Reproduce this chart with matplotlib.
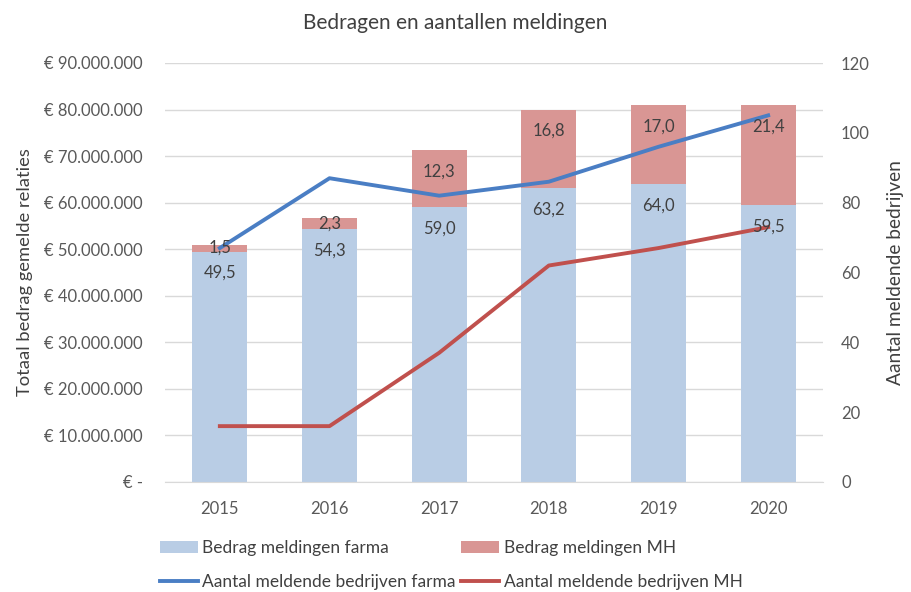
import matplotlib
matplotlib.use("Agg")
import matplotlib.pyplot as plt
import matplotlib.ticker as mticker
import numpy as np

years = ["2015", "2016", "2017", "2018", "2019", "2020"]
farma_amount = [49.5, 54.3, 59.0, 63.2, 64.0, 59.5]   # million euro
mh_amount = [1.5, 2.3, 12.3, 16.8, 17.0, 21.4]       # million euro
farma_count = [67, 87, 82, 86, 96, 105]
mh_count = [16, 16, 37, 62, 67, 73]

plt.rcParams['font.family'] = ['Lato', 'DejaVu Sans']
txt = '#404040'
tick_c = '#595959'

fig = plt.figure(figsize=(9.11, 5.92), dpi=100)
ax = fig.add_axes([165/911, 1-482/592, (823-165)/911, (482-63)/592])
ax2 = ax.twinx()

x = np.arange(len(years))
farma_v = np.array(farma_amount) * 1e6
mh_v = np.array(mh_amount) * 1e6
ax.bar(x, farma_v, width=0.5, color='#B9CDE5', label='Bedrag meldingen farma', zorder=2)
ax.bar(x, mh_v, width=0.5, bottom=farma_v, color='#D99694', label='Bedrag meldingen MH', zorder=2)

ax.set_xlim(-0.5, len(years) - 0.5)
ax.set_ylim(0, 90e6)
ax.set_yticks(np.arange(0, 90e6 + 1, 10e6))

def eur(v, pos):
    if v == 0:
        return '€ -'
    return '€ ' + f"{int(round(v)):,}".replace(',', '.')
ax.yaxis.set_major_formatter(mticker.FuncFormatter(eur))
ax.set_xticks(x)
ax.set_xticklabels(years)
ax.grid(axis='y', color='#D9D9D9', linewidth=1, zorder=0)
ax.set_axisbelow(True)
for s in ['top', 'left', 'right']:
    ax.spines[s].set_visible(False)
ax.spines['bottom'].set_color('#D9D9D9')
ax.tick_params(axis='both', length=0, labelsize=12, colors=tick_c)
ax.tick_params(axis='y', pad=16)
ax.tick_params(axis='x', pad=14)
ax.set_ylabel('Totaal bedrag gemelde relaties', fontsize=13.2, color=txt, labelpad=8)

ax2.plot(x, farma_count, color='#4A7EC4', linewidth=2.8, label='Aantal meldende bedrijven farma', zorder=3)
ax2.plot(x, mh_count, color='#C0504D', linewidth=2.8, label='Aantal meldende bedrijven MH', zorder=3)
ax2.set_ylim(0, 120)
ax2.set_yticks(np.arange(0, 121, 20))
for s in ['top', 'left', 'right', 'bottom']:
    ax2.spines[s].set_visible(False)
ax2.tick_params(axis='y', length=0, labelsize=12, colors=tick_c, pad=13)
ax2.set_ylabel('Aantal meldende bedrijven', fontsize=13.8, color=txt, labelpad=12)

off = 4.6
for i in range(len(years)):
    f = farma_amount[i]
    m = mh_amount[i]
    ax2.text(x[i], (f - off) * 1e6, f"{f:.1f}".replace('.', ','), transform=ax.transData,
             ha='center', va='center', fontsize=12, color=txt, zorder=5)
    ym = max(f + m / 2, f + m - off)
    ax2.text(x[i], ym * 1e6, f"{m:.1f}".replace('.', ','), transform=ax.transData,
             ha='center', va='center', fontsize=12, color=txt, zorder=5)

fig.text(455/911, 1-23/592, 'Bedragen en aantallen meldingen', ha='center', va='center',
         fontsize=15, color=txt)

h1, l1 = ax.get_legend_handles_labels()
h2, l2 = ax2.get_legend_handles_labels()
handles = [h1[0], h2[0], h1[1], h2[1]]
labels = [l1[0], l2[0], l1[1], l2[1]]
leg = fig.legend(handles, labels, ncol=2, loc='center left', bbox_to_anchor=(153/911, 1-565/592),
                 frameon=False, fontsize=12.5, handlelength=2.2, handletextpad=0.25,
                 columnspacing=0.3, labelspacing=1.05, borderaxespad=0)
for t in leg.get_texts():
    t.set_color(txt)

fig.savefig('out.png', dpi=100)
